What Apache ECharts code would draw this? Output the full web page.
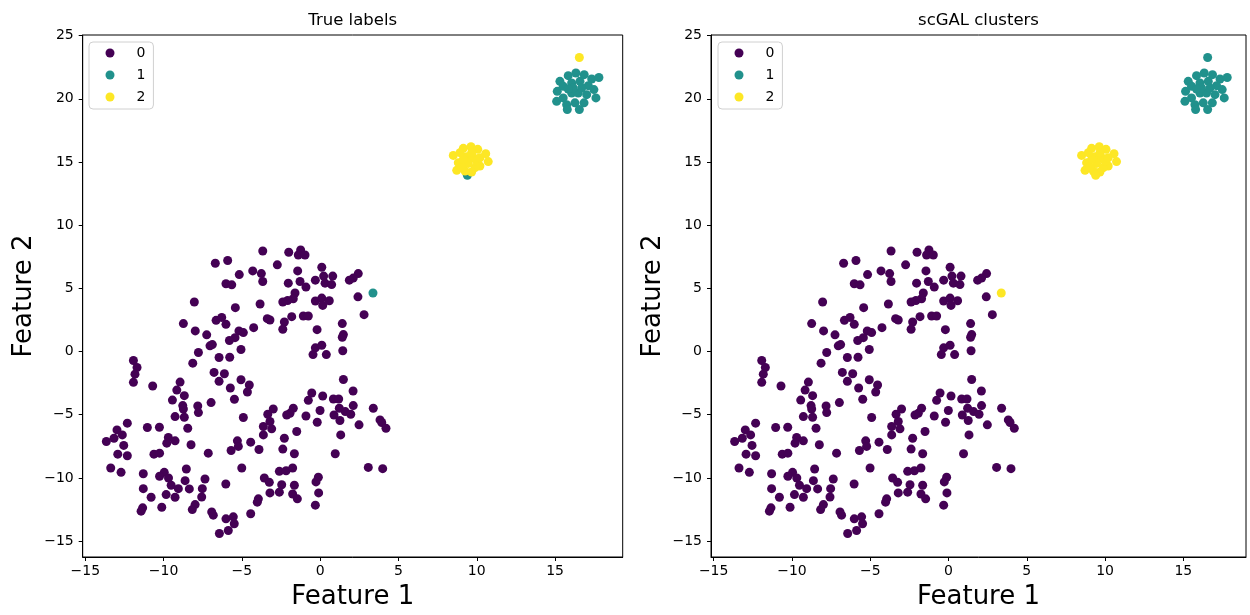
<!DOCTYPE html>
<html>
<head>
<meta charset="utf-8">
<title>True labels vs scGAL clusters</title>
<script src="https://cdn.jsdelivr.net/npm/echarts@6.0.0/dist/echarts.min.js"></script>
<style>
  html, body { margin: 0; padding: 0; background: #fff; }
  #chart { width: 1250px; height: 615px; }
</style>
</head>
<body>
<div id="chart"></div>
<script>
// big purple cloud (cluster 0 in both panels)
const cloudPts = [
  [-6.70,6.99],[-5.91,7.20],[-5.17,6.09],[-6.02,5.36],[-5.65,5.28],[-8.04,3.92],[-5.42,3.47],[-6.65,2.47],
  [-6.29,2.70],[-6.02,2.15],[-8.74,2.21],[-7.98,1.63],[-7.25,1.32],[-5.19,1.63],[-4.91,1.50],[-5.44,1.10],
  [-5.80,0.87],[-7.04,0.45],[-6.89,0.55],[-5.06,0.16],[-7.78,-0.08],[-6.46,-0.47],[-5.78,-0.45],[-11.93,-0.71],
  [-11.70,-1.26],[-8.14,-0.92],[-11.83,-1.79],[-6.78,-1.65],[-6.12,-1.76],[-11.93,-2.44],[-10.70,-2.73],[-8.95,-2.42],
  [-6.46,-2.36],[-5.06,-2.23],[-5.74,-2.89],[-9.16,-3.05],
  [-3.67,7.96],[-2.01,7.86],[-1.25,8.04],[-1.40,7.64],[-0.97,7.64],[-2.74,6.86],[0.10,6.67],[-4.31,6.38],
  [-3.76,6.17],[-3.67,5.54],[-1.44,6.38],[-2.04,5.41],[-1.29,5.54],[-0.91,5.10],[-0.31,5.65],[0.22,5.97],
  [0.80,5.97],[0.31,5.41],[0.73,5.30],[2.43,6.17],[2.11,5.81],[1.86,5.65],[-1.61,4.63],[-1.72,4.18],
  [-2.08,4.04],[-2.39,3.92],[-3.84,3.76],[-0.31,4.00],[0.10,4.23],[0.16,3.65],[0.58,4.02],[2.41,4.33],
  [2.80,2.92],[-3.38,2.60],[-3.21,2.50],[-1.82,2.76],[-1.08,2.81],[-0.76,2.81],[-2.29,2.34],[-2.39,1.76],
  [-4.25,1.89],[-0.20,1.73],[1.41,2.21],[1.48,1.34],[1.41,1.13],[-0.31,0.29],[0.10,0.50],[-0.46,-0.24],
  [0.39,-0.24],[1.44,0.06],[-4.53,-2.65],[1.48,-2.21],
  [-4.65,-3.20],[-0.54,-3.28],[0.16,-3.52],[-0.76,-3.86],[0.84,-3.76],[1.18,-3.76],[2.10,-3.12],[2.11,-4.28],
  [1.22,-4.49],[1.60,-4.75],[1.95,-4.96],[0.88,-5.02],[1.26,-5.46],[-0.01,-4.67],[-0.19,-5.60],[-0.91,-5.10],
  [-1.72,-4.49],[-1.93,-4.89],[-2.14,-5.02],[-3.00,-4.55],[-3.35,-4.96],[-3.21,-5.54],[-3.63,-5.93],[-3.10,-6.12],
  [-3.63,-6.60],[-4.91,-5.22],[-1.50,-6.33],[2.48,-5.80],[3.39,-4.49],[3.82,-5.41],[3.93,-5.62],[4.20,-6.07],
  [1.31,-6.60],[-2.29,-6.86],[-4.44,-7.17],[-3.91,-7.75],[-2.39,-7.72],[-1.65,-8.09],[0.96,-8.09],[-5.01,-9.22],
  [-2.61,-9.48],[-2.18,-9.43],[-1.76,-9.22],[3.07,-9.17],[3.99,-9.27],[-3.57,-10.01],[-3.25,-10.35],[-2.46,-10.54],
  [-1.65,-10.58],[-3.21,-11.19],[-2.61,-11.13],[-1.76,-11.27],[-1.46,-11.66],[-0.12,-9.95],[-0.27,-10.32],[-0.10,-11.19],
  [-0.31,-12.16],[-3.95,-11.66],[-4.02,-11.92],[-4.44,-12.84],
  [-8.68,-3.49],[-9.44,-3.84],[-8.78,-4.28],[-8.74,-4.55],[-7.82,-4.31],[-7.78,-4.83],[-6.97,-4.04],[-5.48,-3.78],
  [-9.27,-5.15],[-8.68,-5.20],[-12.32,-5.67],[-12.98,-6.20],[-12.64,-6.60],[-13.17,-6.86],[-13.66,-7.12],[-12.55,-7.43],
  [-12.93,-8.12],[-12.32,-8.25],[-11.04,-6.01],[-10.27,-5.99],[-8.46,-6.07],[-9.70,-6.80],[-9.27,-7.07],[-9.80,-7.25],
  [-8.25,-7.38],[-5.29,-7.07],[-5.23,-7.51],[-5.69,-7.83],[-7.15,-8.04],[-10.62,-8.12],[-10.26,-8.04],[-13.38,-9.22],
  [-12.72,-9.56],[-11.30,-9.67],[-9.96,-9.56],[-10.26,-9.87],[-9.69,-10.01],[-8.55,-9.30],[-8.63,-10.22],[-9.52,-10.58],
  [-9.06,-10.85],[-8.36,-10.87],[-7.36,-10.09],[-7.53,-10.85],[-7.57,-11.51],[-6.03,-10.48],[-11.30,-10.85],[-10.80,-11.53],
  [-9.84,-11.32],[-9.27,-11.53],[-11.34,-12.37],[-11.44,-12.63],[-10.12,-12.32],[-7.99,-12.11],[-8.17,-12.51],[-6.93,-12.69],
  [-6.83,-12.95],[-6.02,-13.24],[-5.55,-13.08],[-5.49,-13.63],[-5.87,-14.16],[-6.44,-14.40]
];

// top-right blob (cluster 1)
const blobTopPts = [
  [15.31,21.38],[15.84,21.83],[16.33,22.04],[16.86,21.91],[17.34,21.57],[17.80,21.69],[15.14,20.59],[15.52,20.99],
  [16.06,21.25],[16.59,21.38],[17.12,21.04],[17.48,20.73],[15.10,19.80],[15.52,20.07],[16.06,20.46],[16.48,20.46],
  [17.02,20.33],[17.61,20.07],[15.74,19.54],[16.27,19.68],[16.85,19.68],[15.78,19.15],[16.55,19.15],[16.16,20.86],
  [16.70,20.86],[15.84,20.78]
];

// middle blob (cluster 2)
const blobMidPts = [
  [8.50,15.52],[9.14,16.08],[9.63,16.21],[10.06,16.00],[10.57,15.66],[10.73,15.03],[10.20,14.68],[9.89,14.55],
  [9.67,14.21],[9.25,14.29],[8.72,14.34],[8.82,14.95],[9.35,15.42],[9.78,15.34],[9.46,14.89],[9.03,14.60],
  [9.99,15.08],[10.20,15.34],[9.14,15.21],[9.67,15.74],[8.93,15.74]
];

// the few points whose label differs between the two panels
const oddPts = [[3.37,4.63],[9.40,13.95],[16.55,23.27]];
const oddTrue = [1, 1, 2];
const oddPred = [2, 2, 1];

const labelNames = ['0', '1', '2'];
const viridis = ['#440154', '#21918c', '#fde725'];
const tickVals = [-15, -10, -5, 0, 5, 10, 15];
const yTickVals = [-15, -10, -5, 0, 5, 10, 15, 20, 25];
const panelTitles = ['True labels', 'scGAL clusters'];

const FONT = 'DejaVu Sans';

// group points per label for a panel
function groupPts(oddLabels, base1, base2) {
  const groups = [cloudPts.slice(), base1.slice(), base2.slice()];
  oddPts.forEach((p, i) => groups[oddLabels[i]].push(p));
  return groups;
}

const trueGroups = groupPts(oddTrue, blobTopPts, blobMidPts);
const predGroups = groupPts(oddPred, blobTopPts, blobMidPts);

function fmtTick(v) {
  return v < 0 ? '\u2212' + (-v) : String(v);
}

const grids = [
  { left: 82.7, top: 35, width: 540, height: 524.3 },
  { left: 711, top: 35, width: 535, height: 524.3 }
];
const xMax = [19.32, 19.0];

function makeXAxis(i) {
  return {
    gridIndex: i, type: 'value', min: -15.17, max: xMax[i],
    name: 'Feature 1', nameLocation: 'middle', nameGap: 27,
    nameTextStyle: { fontFamily: FONT, fontSize: 26, color: '#000' },
    splitLine: { show: false },
    axisLine: { show: true, onZero: false, lineStyle: { color: '#000', width: 1 } },
    axisTick: { show: true, length: 4, customValues: tickVals, lineStyle: { color: '#000' } },
    axisLabel: { customValues: tickVals, formatter: fmtTick, margin: 7,
      fontFamily: FONT, fontSize: 14, color: '#000' }
  };
}

function makeYAxis(i) {
  return {
    gridIndex: i, type: 'value', min: -16.26, max: 25.05,
    name: 'Feature 2', nameLocation: 'middle', nameGap: 45,
    nameTextStyle: { fontFamily: FONT, fontSize: 26, color: '#000' },
    splitLine: { show: false },
    axisLine: { show: true, onZero: false, lineStyle: { color: '#000', width: 1 } },
    axisTick: { show: true, length: 4, customValues: yTickVals, lineStyle: { color: '#000' } },
    axisLabel: { customValues: yTickVals, formatter: fmtTick, margin: 9,
      fontFamily: FONT, fontSize: 14, color: '#000' }
  };
}

function makeSeries(groups, i) {
  return groups.map((pts, k) => ({
    name: labelNames[k],
    type: 'scatter',
    xAxisIndex: i, yAxisIndex: i,
    symbol: 'circle', symbolSize: 9,
    itemStyle: { color: viridis[k], opacity: 1 },
    emphasis: { disabled: true },
    data: pts
  }));
}

function makeLegend(left) {
  return {
    left: left, top: 42, orient: 'vertical',
    data: labelNames.map(n => ({ name: n, icon: 'circle' })),
    itemWidth: 9, itemHeight: 9, itemGap: 8,
    padding: [4, 8, 5, 16.5],
    borderColor: '#d0d0d0', borderWidth: 1, borderRadius: 4,
    backgroundColor: '#fff',
    selectedMode: false,
    formatter: '{t|{name}}',
    textStyle: {
      rich: { t: { fontFamily: FONT, fontSize: 14, color: '#000', lineHeight: 14, padding: [0, 0, 0, 17] } }
    }
  };
}

const chart = echarts.init(document.getElementById('chart'), null, { renderer: 'canvas' });
chart.setOption({
  animation: false,
  backgroundColor: '#fff',
  title: panelTitles.map((t, i) => ({
    text: t,
    left: grids[i].left + grids[i].width / 2,
    top: 12, padding: 0,
    textAlign: 'center',
    textStyle: { fontFamily: FONT, fontSize: 16.5, fontWeight: 'normal', color: '#000' }
  })),
  grid: grids.map(g => Object.assign({ show: true, borderColor: '#000', borderWidth: 1, backgroundColor: '#fff' }, g)),
  xAxis: [makeXAxis(0), makeXAxis(1)],
  yAxis: [makeYAxis(0), makeYAxis(1)],
  legend: [makeLegend(89), makeLegend(718)],
  series: makeSeries(trueGroups, 0).concat(makeSeries(predGroups, 1))
});
</script>
</body>
</html>
